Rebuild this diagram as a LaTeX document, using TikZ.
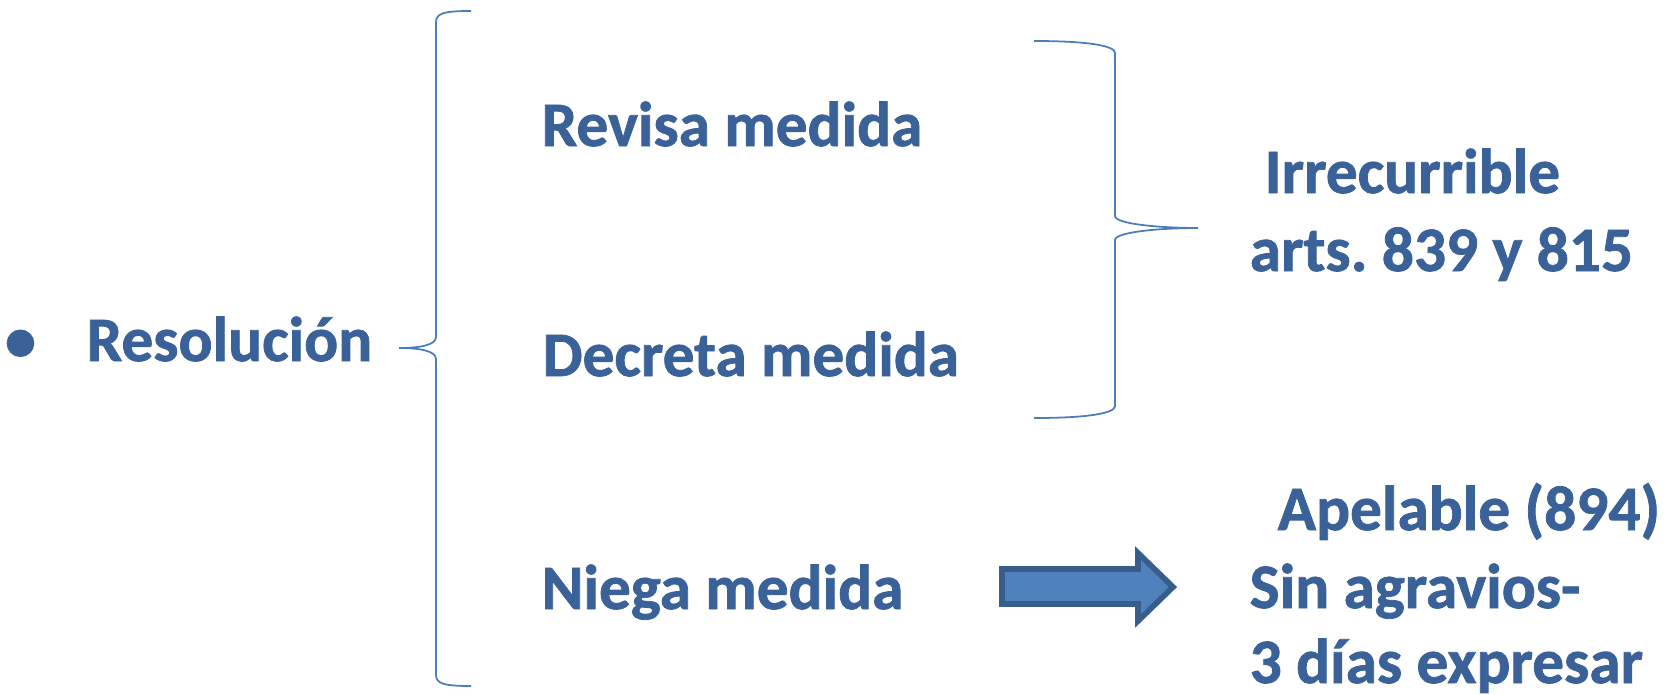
\documentclass[tikz,border=0pt]{standalone}
\usepackage{fontspec}
\setmainfont{Carlito}[BoldFeatures={FakeBold=1.2}]
\usetikzlibrary{positioning}
\definecolor{txtblue}{RGB}{58,98,152}
\definecolor{braceblue}{RGB}{74,126,187}
\definecolor{arrowfill}{RGB}{79,129,189}
\definecolor{arrowline}{RGB}{56,93,138}

\begin{document}
\begin{tikzpicture}[
        x=0.01cm, y=-0.01cm,
        lbl/.style={anchor=base west, inner sep=0pt, text=txtblue, font=\fontsize{18}{22}\selectfont\bfseries},
        brace/.style={draw=braceblue, line width=0.5pt},
        blockarrow/.style={fill=arrowfill, draw=arrowline, line width=1.6pt, line join=miter}
      ]
      \useasboundingbox (0,0) rectangle (1680,694);
      % left column
      \node[lbl] (dot) at (4,361) {•};
      \node[lbl] (res) at (86,361) {Resolución};
      % middle column
      \node[lbl] (rev) at (541,146) {Revisa medida};
      \node[lbl] (dec) at (542,376) {Decreta medida};
      \node[lbl] (nie) at (541,609) {Niega medida};
      % right column
      \node[lbl] (irr) at (1264,193) {Irrecurrible};
      \node[lbl] (art) at (1249,271) {arts.\ 839 y 815};
      \node[lbl] (ape) at (1277,530) {Apelable (894)};
      \node[lbl] (sin) at (1249,608) {Sin agravios-};
      \node[lbl] (dia) at (1249,683) {3 días expresar};
      % braces
      \coordinate (lt) at (471,11);
      \coordinate (ltip) at (399,348);
      \coordinate (lb) at (471,686);
      \coordinate (rt) at (1034,41);
      \coordinate (rtip) at (1198,228);
      \coordinate (rb) at (1034,418);
      \draw[brace] (lt) .. controls (445,11) and (436,13) .. (436,22) -- (436,337)
        .. controls (436,345) and (420,348) .. (ltip)
        .. controls (420,348) and (436,351) .. (436,359) -- (436,675)
        .. controls (436,684) and (445,686) .. (lb);
      \draw[brace] (rt) .. controls (1090,41) and (1115,46) .. (1115,53) -- (1115,216)
        .. controls (1115,224) and (1160,228) .. (rtip)
        .. controls (1160,228) and (1115,232) .. (1115,240) -- (1115,406)
        .. controls (1115,413) and (1090,418) .. (rb);
      % block arrow
      \draw[blockarrow] (1002,569) -- (1138,569) -- (1138,553) -- (1173,587)
        -- (1138,621) -- (1138,604) -- (1002,604) -- cycle;
    \end{tikzpicture}
\end{document}
